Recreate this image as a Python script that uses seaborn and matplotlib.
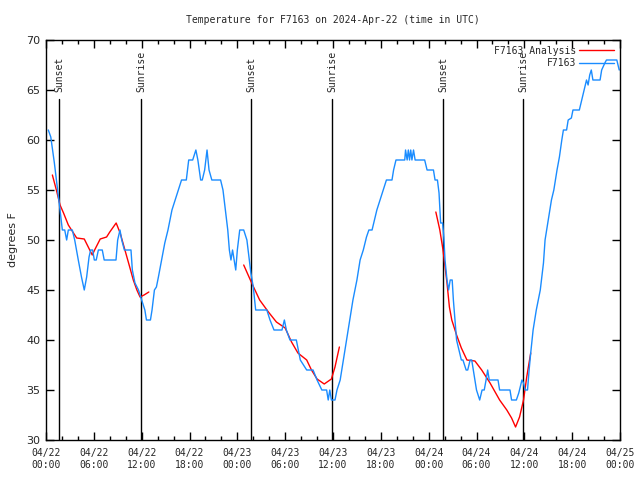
import pandas as pd
import numpy as np
import matplotlib
matplotlib.use('Agg')
import matplotlib.pyplot as plt
import matplotlib.dates as mdates
from matplotlib.lines import Line2D
import seaborn as sns

START = pd.Timestamp('2024-04-22 00:00')

# station readings: hours after start, degrees F
obs_hours = [0.29, 0.6, 1.05, 1.46, 1.76, 2.05, 2.35, 2.59, 2.8, 3.3, 3.6, 4.05, 4.45, 4.8, 5.1,
             5.4, 5.6, 5.85, 6.06, 6.3, 6.57, 7.06, 7.3, 8.78, 8.99, 9.28, 9.5, 9.83, 10.66, 10.83,
             11.16, 11.6, 12.0, 12.4, 12.6, 13.1, 13.3, 13.6, 13.85, 14.1, 14.5, 14.9, 15.3, 15.8,
             16.2, 16.6, 17.0, 17.6, 17.9, 18.4, 18.8, 19.05, 19.4, 19.6, 19.9, 20.2, 20.45, 20.8,
             21.9, 22.2, 22.5, 22.8, 23.0, 23.2, 23.4, 23.6, 23.8, 24.0, 24.3, 24.8, 25.2, 25.5,
             25.7, 26.0, 26.3, 27.7, 28.1, 28.6, 29.6, 29.9, 30.15, 30.6, 31.4, 31.9, 32.7, 33.5,
             34.0, 34.6, 35.2, 35.4, 35.6, 35.8, 36.25, 36.5, 36.9, 37.3, 37.7, 38.1, 38.5, 39.0,
             39.4, 39.8, 40.2, 40.5, 40.9, 41.2, 41.5, 41.9, 42.3, 42.7, 43.4, 43.6, 43.9, 45.0,
             45.1, 45.3, 45.45, 45.6, 45.75, 45.9, 46.1, 46.3, 47.5, 47.8, 48.6, 48.8, 49.1, 49.3,
             49.5, 49.75, 49.9, 50.05, 50.3, 50.5, 50.7, 50.95, 51.1, 51.3, 51.5, 51.8, 52.1, 52.3,
             52.7, 52.9, 53.2, 53.4, 53.6, 54.0, 54.4, 54.7, 54.97, 55.2, 55.4, 55.6, 56.7, 56.9,
             58.2, 58.4, 59.0, 59.3, 59.7, 59.9, 60.1, 60.4, 60.6, 60.8, 61.1, 61.5, 62.0, 62.4,
             62.6, 63.0, 63.4, 63.7, 64.1, 64.4, 64.7, 64.9, 65.3, 65.5, 65.9, 66.1, 66.9, 67.2,
             67.5, 67.8, 68.0, 68.2, 68.4, 68.6, 69.5, 69.7, 70.1, 70.3, 71.6, 71.9]
obs_temps = [61, 60.3, 57.7, 55, 53, 51, 51, 50, 51, 51, 50, 48, 46.3, 45, 46.3,
             48.3, 49, 49, 48, 48, 49, 49, 48, 48, 50, 51, 50, 49, 49, 47,
             45.7, 45, 44, 43, 42, 42, 43, 45, 45.3, 46.3, 48, 49.7, 51, 53,
             54, 55, 56, 56, 58, 58, 59, 58, 56, 56, 57, 59, 57, 56,
             56, 55, 53, 51, 49, 48, 49, 48, 47, 49, 51, 51, 50, 48,
             46.7, 45.3, 43, 43, 42, 41, 41, 42, 41, 40, 40, 38, 37, 37,
             36, 35, 35, 34, 35, 34, 34, 35, 36, 38, 40, 42, 44, 46,
             48, 49, 50.3, 51, 51, 52, 53, 54, 55, 56, 56, 57, 58, 58,
             59, 58, 59, 58, 59, 58, 59, 58, 58, 57, 57, 56, 56, 54.7,
             51.7, 51.7, 50.3, 48, 46, 45, 46, 46, 44, 42, 40, 39, 38, 38,
             37, 37, 38, 38, 37, 35, 34, 35, 35, 36, 37, 36, 36, 35,
             35, 34, 34, 34.7, 36, 35.7, 35, 35, 37, 38.7, 41, 43, 45, 47.7,
             50, 52, 54, 55, 57, 58.3, 60, 61, 61, 62, 62.2, 63, 63, 64,
             65, 66, 65.5, 66.5, 67, 66, 66, 67, 67.7, 68, 68, 67]

# analysis curves, three separate pieces
ana1_hours = [0.8, 1.3, 1.76, 2.2, 2.8, 3.2, 3.85, 4.8, 5.3, 5.8, 6.1, 6.8, 7.6, 8.0, 8.8,
              9.3, 9.9, 10.5, 10.95, 11.4, 11.8, 12.3, 12.9]
ana1_temps = [56.5, 55, 53.5, 52.7, 51.5, 51, 50.2, 50.1, 49.3, 48.5, 49, 50.1, 50.3, 50.8, 51.7,
              50.7, 49, 47.3, 46, 45, 44.3, 44.5, 44.8]
ana2_hours = [24.8, 25.8, 26.8, 27.9, 28.9, 30.0, 30.8, 31.6, 32.7, 33.3, 34.0, 34.9, 35.8, 36.25, 36.8]
ana2_temps = [47.5, 45.7, 44, 42.8, 41.8, 41.2, 39.8, 38.7, 38, 37, 36.1, 35.6, 36.1, 37.3, 39.3]
ana3_hours = [48.9, 49.4, 49.8, 50.3, 50.6, 50.9, 51.5, 52.1, 52.8, 53.8, 54.65, 55.7, 56.9, 57.8,
              58.4, 58.9, 59.4, 59.9, 60.3, 60.8]
ana3_temps = [52.8, 51, 49, 45.7, 43.3, 42, 40.5, 39.2, 38, 37.9, 37, 35.7, 34, 33,
              32.2, 31.3, 32.3, 34, 36.3, 38.7]

sun_hours = [1.67, 11.95, 25.75, 35.91, 49.84, 59.87]
sun_labels = ['Sunset', 'Sunrise', 'Sunset', 'Sunrise', 'Sunset', 'Sunrise']

BLUE = '#1a8cff'
RED = '#ff0000'


def to_time(hours):
    return START + pd.to_timedelta(np.asarray(hours, dtype=float), unit='h')


obs = pd.DataFrame({'time': to_time(obs_hours), 'temp': obs_temps})
ana = pd.concat([
    pd.DataFrame({'time': to_time(h), 'temp': t, 'seg': i})
    for i, (h, t) in enumerate([(ana1_hours, ana1_temps), (ana2_hours, ana2_temps),
                                (ana3_hours, ana3_temps)])
])

sns.set_style('ticks')
plt.rcParams['font.family'] = ['DejaVu Sans Mono']

fig = plt.figure(figsize=(6.4, 4.8), dpi=100)
ax = fig.add_axes([46 / 640, 1 - 440 / 480, 574 / 640, 400 / 480])

ylo, yhi = 30, 70
for h, lab in zip(sun_hours, sun_labels):
    t = to_time([h])[0]
    ax.plot([t, t], [ylo, 64.1], color='black', lw=1)
    ax.text(t, 64.8, lab, rotation=90, ha='center', va='bottom', fontsize=7)

sns.lineplot(data=ana, x='time', y='temp', units='seg', estimator=None, color=RED,
             lw=1, ax=ax, legend=False)
sns.lineplot(data=obs, x='time', y='temp', color=BLUE, lw=1, ax=ax, legend=False)

ax.set_xlim(START, START + pd.Timedelta(hours=72))
ax.set_ylim(ylo, yhi)
ax.set_yticks(range(30, 71, 5))
ax.xaxis.set_major_locator(mdates.HourLocator(byhour=[0, 6, 12, 18]))
ax.xaxis.set_minor_locator(mdates.HourLocator(interval=2))
ax.xaxis.set_major_formatter(mdates.DateFormatter('%m/%d\n%H:%M'))
ax.tick_params(which='both', direction='in', top=True, right=True, width=1, color='black')
ax.tick_params(which='major', length=6)
ax.tick_params(which='minor', length=3)
ax.tick_params(axis='x', labelsize=7, pad=6)
ax.tick_params(axis='y', labelsize=8, pad=4)
for lab in ax.get_yticklabels():
    lab.set_family('DejaVu Sans')
for sp in ax.spines.values():
    sp.set_color('black')
    sp.set_linewidth(1)

ax.set_xlabel('')
ax.set_ylabel('degrees F', family='DejaVu Sans', fontsize=8, labelpad=6)
ax.set_title('Temperature for F7163 on 2024-Apr-22 (time in UTC)', fontsize=7, pad=12)

handles = [Line2D([], [], color=RED, lw=1), Line2D([], [], color=BLUE, lw=1)]
ax.legend(handles, ['F7163 Analysis', 'F7163'], loc='upper right', frameon=False,
          fontsize=7, markerfirst=False, handlelength=3.6, handletextpad=0.3,
          borderaxespad=0.4, borderpad=0.2, labelspacing=0.25)

fig.savefig('out.png', dpi=100)
